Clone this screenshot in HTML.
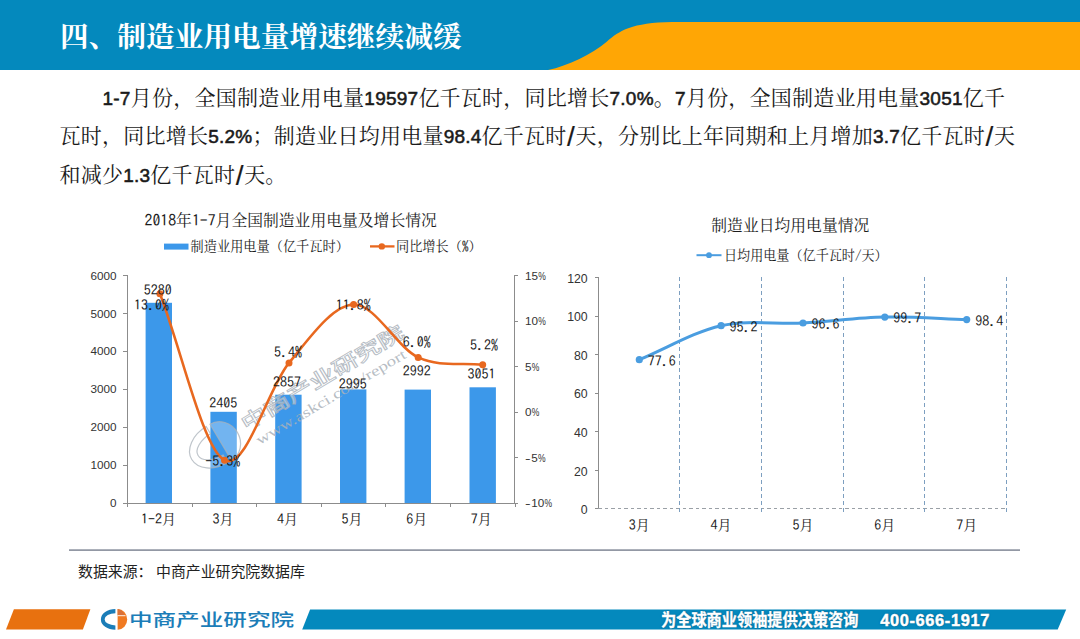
<!DOCTYPE html>
<html lang="zh-CN"><head><meta charset="utf-8"><title>四、制造业用电量增速继续减缓</title>
<style>
html,body{margin:0;padding:0;background:#fff;}
body{width:1080px;height:639px;position:relative;overflow:hidden;font-family:"Liberation Sans","Noto Sans CJK SC",sans-serif;}
.abs{position:absolute;}
.title{left:60px;top:16px;height:42px;line-height:42px;color:#fff;font-family:"Liberation Serif","Noto Serif CJK SC",serif;font-weight:700;font-size:28.7px;white-space:nowrap;letter-spacing:0px;}
.p{color:#1a1a1a;font-family:"Liberation Sans","Noto Serif CJK SC",serif;font-size:21px;line-height:30px;height:30px;white-space:nowrap;font-weight:400;}
.p b{font-family:"Liberation Sans",sans-serif;font-weight:400;font-size:19px;-webkit-text-stroke:0.55px #1a1a1a;}
.p b.sl{padding:0 0.5px;font-size:28px;font-weight:400;-webkit-text-stroke:0.2px #1a1a1a;line-height:0;position:relative;top:2.5px;}
.p b.pc{letter-spacing:-0.4px;}

.ax text{font-family:"Liberation Sans",sans-serif;font-size:11.7px;fill:#333;}
.sun, .sun text{font-family:"Liberation Serif","Noto Serif CJK SC",serif;font-size:14px;fill:#1c1c1c;}
.d{font-family:IPAGothic,"Liberation Mono",monospace;}
.src{left:78px;top:561.3px;font-size:14.9px;line-height:22px;color:#222;white-space:nowrap;}
.slogan{top:609px;height:21px;line-height:21px;color:#fff;font-weight:700;font-size:15.2px;white-space:nowrap;text-shadow:0 0 2px #0a5f8a,0 0 1px #0a5f8a;}
</style></head><body>
<svg class="abs" style="left:0;top:0" width="1080" height="72" viewBox="0 0 1080 72">
<rect x="0" y="0" width="1080" height="70" fill="#0489bd"/>
<path d="M548,70 C568,66 592,54 607,41.5 C619,31 632,22.5 672,22 L1080,22 L1080,70 Z" fill="#ffa605"/>
</svg>
<div class="abs title">四、制造业用电量增速继续减缓</div>
<div class="abs p" style="left:102.5px;top:83px;letter-spacing:0.24px"><b>1-7</b>月份，全国制造业用电量<b>19597</b>亿千瓦时，同比增长<b>7.0%</b>。<b>7</b>月份，全国制造业用电量<b>3051</b>亿千</div>
<div class="abs p" style="left:59.5px;top:121px;letter-spacing:0.24px">瓦时，同比增长<b>5.2%</b>；制造业日均用电量<b>98.4</b>亿千瓦时<b class="sl">/</b>天，分别比上年同期和上月增加<b>3.7</b>亿千瓦时<b class="sl">/</b>天</div>
<div class="abs p" style="left:59.5px;top:160px;letter-spacing:0.22px">和减少<b>1.3</b>亿千瓦时<b class="sl">/</b>天。</div>
<svg class="abs" style="left:0;top:0" width="1080" height="639" viewBox="0 0 1080 639">
<rect x="145.6" y="302.8" width="26.4" height="200.2" fill="#3c98ea"/>
<rect x="210.4" y="411.8" width="26.4" height="91.2" fill="#3c98ea"/>
<rect x="275.2" y="394.7" width="26.4" height="108.3" fill="#3c98ea"/>
<rect x="340.0" y="389.4" width="26.4" height="113.6" fill="#3c98ea"/>
<rect x="404.6" y="389.6" width="26.4" height="113.4" fill="#3c98ea"/>
<rect x="469.5" y="387.3" width="26.4" height="115.7" fill="#3c98ea"/>
<g stroke="#8c8c8c" stroke-width="1" fill="none" shape-rendering="crispEdges">
<path d="M127.6,275.5V503.0H514.4V275.5"/>
<path d="M122.6,503.0H127.6"/>
<path d="M122.6,465.1H127.6"/>
<path d="M122.6,427.2H127.6"/>
<path d="M122.6,389.2H127.6"/>
<path d="M122.6,351.3H127.6"/>
<path d="M122.6,313.4H127.6"/>
<path d="M122.6,275.5H127.6"/>
<path d="M514.4,503.0h3.6"/>
<path d="M514.4,457.5h3.6"/>
<path d="M514.4,412.0h3.6"/>
<path d="M514.4,366.5h3.6"/>
<path d="M514.4,321.0h3.6"/>
<path d="M514.4,275.5h3.6"/>
<path d="M127.6,503.0v4"/>
<path d="M192.2,503.0v4"/>
<path d="M256.7,503.0v4"/>
<path d="M321.3,503.0v4"/>
<path d="M385.9,503.0v4"/>
<path d="M450.4,503.0v4"/>
<path d="M515.0,503.0v4"/>
</g>
<g class="ax" text-anchor="end">
<text x="116.4" y="507.1">0</text>
<text x="116.4" y="469.2">1000</text>
<text x="116.4" y="431.3">2000</text>
<text x="116.4" y="393.4">3000</text>
<text x="116.4" y="355.4">4000</text>
<text x="116.4" y="317.5">5000</text>
<text x="116.4" y="279.6">6000</text>
</g>
<g class="ax">
<text x="525.0" y="507.4" textLength="5.6" lengthAdjust="spacingAndGlyphs">-</text>
<text x="531.2" y="507.4">10</text><text x="544.5" y="507.4" textLength="7.6" lengthAdjust="spacingAndGlyphs">%</text>
<text x="525.0" y="461.9" textLength="5.6" lengthAdjust="spacingAndGlyphs">-</text>
<text x="531.2" y="461.9">5</text><text x="538.0" y="461.9" textLength="7.6" lengthAdjust="spacingAndGlyphs">%</text>
<text x="525.0" y="416.4">0</text><text x="531.8" y="416.4" textLength="7.6" lengthAdjust="spacingAndGlyphs">%</text>
<text x="525.0" y="370.9">5</text><text x="531.8" y="370.9" textLength="7.6" lengthAdjust="spacingAndGlyphs">%</text>
<text x="525.0" y="325.4">10</text><text x="538.3" y="325.4" textLength="7.6" lengthAdjust="spacingAndGlyphs">%</text>
<text x="525.0" y="279.9">15</text><text x="538.3" y="279.9" textLength="7.6" lengthAdjust="spacingAndGlyphs">%</text>
</g>
<g class="sun" text-anchor="middle">
<text x="158.4" y="523.5"><tspan class="d">1-2</tspan>月</text>
<text x="223.0" y="523.5"><tspan class="d">3</tspan>月</text>
<text x="287.5" y="523.5"><tspan class="d">4</tspan>月</text>
<text x="352.1" y="523.5"><tspan class="d">5</tspan>月</text>
<text x="416.7" y="523.5"><tspan class="d">6</tspan>月</text>
<text x="481.2" y="523.5"><tspan class="d">7</tspan>月</text>
</g>
<g transform="translate(214.5,446) rotate(-30.8)">
<g transform="scale(2.02)" fill="#ffffff" fill-opacity="0.28" stroke="#a9b1ba" stroke-opacity="0.75" stroke-width="0.6">
<path d="M1.4,-10.4 A14.5,10.4 0 0 0 1.4,10.4 L1.4,6 A10.8,6.1 0 0 1 1.4,-6.2 Z"/>
<path d="M3.6,-10.4 A9.6,10.4 0 0 1 3.6,10.4 Z"/>
</g>
<text transform="translate(35,3.5) scale(1.38,1)" font-size="19.2" font-family="'Liberation Sans','Noto Sans CJK SC',sans-serif" font-weight="500" fill="#ffffff" fill-opacity="0.45" stroke="#a4acb5" stroke-opacity="0.8" stroke-width="0.9">中商产业研究院</text>
<text x="39" y="22.5" font-size="14.5" font-family="'Liberation Serif',serif" fill="#aab1b9" fill-opacity="0.85" textLength="172" lengthAdjust="spacingAndGlyphs">www.askci.com/report</text>
</g>
<path d="M159.9,293.7 C181.4,349.2 202.9,448.7 224.5,460.2 C246.0,471.8 267.5,388.8 289.0,362.9 C310.5,336.9 332.1,305.5 353.6,304.6 C375.1,303.7 396.6,347.4 418.2,357.4 C439.7,367.4 461.2,362.3 482.7,364.7" fill="none" stroke="#e8681f" stroke-width="2.55" stroke-linecap="round"/>
<circle cx="159.9" cy="293.7" r="3.5" fill="#e8681f"/>
<circle cx="224.5" cy="460.2" r="3.5" fill="#e8681f"/>
<circle cx="289.0" cy="362.9" r="3.5" fill="#e8681f"/>
<circle cx="353.6" cy="304.6" r="3.5" fill="#e8681f"/>
<circle cx="418.2" cy="357.4" r="3.5" fill="#e8681f"/>
<circle cx="482.7" cy="364.7" r="3.5" fill="#e8681f"/>
<g class="sun" text-anchor="middle">
<text x="157.7" y="294.9"><tspan class="d">5280</tspan></text>
<text x="223.3" y="408.0"><tspan class="d">2405</tspan></text>
<text x="286.9" y="386.7"><tspan class="d">2857</tspan></text>
<text x="352.7" y="388.7"><tspan class="d">2995</tspan></text>
<text x="416.8" y="376.0"><tspan class="d">2992</tspan></text>
<text x="481.4" y="379.2"><tspan class="d">3051</tspan></text>
<text x="151.4" y="309.9"><tspan class="d">13.0%</tspan></text>
<text x="222.8" y="466.2"><tspan class="d">-5.3%</tspan></text>
<text x="287.9" y="356.7"><tspan class="d">5.4%</tspan></text>
<text x="353.3" y="309.8"><tspan class="d">11.8%</tspan></text>
<text x="416.8" y="347.2"><tspan class="d">6.0%</tspan></text>
<text x="483.9" y="349.9"><tspan class="d">5.2%</tspan></text>
</g>
<text class="sun" x="144.5" y="226.2" style="font-size:15.8px"><tspan class="d">2018</tspan>年<tspan class="d">1-7</tspan>月全国制造业用电量及增长情况</text>
<rect x="164" y="243.6" width="24.5" height="6" fill="#3c98ea"/>
<text class="sun" x="190.6" y="251" style="font-size:13.2px">制造业用电量（亿千瓦时）</text>
<path d="M370,246.4H394.5" stroke="#e8681f" stroke-width="2.3"/><circle cx="381.8" cy="246.4" r="3.2" fill="#e8681f"/>
<text class="sun" x="396" y="251" style="font-size:13.2px">同比增长（<tspan class="d">%</tspan>）</text>
<g stroke="#8c8c8c" stroke-width="1" fill="none" shape-rendering="crispEdges">
<path d="M598.3,277.4V508.9"/>
<path d="M594.8,508.9h3.5"/>
<path d="M594.8,470.3h3.5"/>
<path d="M594.8,431.7h3.5"/>
<path d="M594.8,393.1h3.5"/>
<path d="M594.8,354.6h3.5"/>
<path d="M594.8,316.0h3.5"/>
<path d="M594.8,277.4h3.5"/>
<path d="M598.3,508.9H1006.8" stroke-dasharray="3.5 3" stroke="#9aa0a6"/>
</g>
<g stroke="#7d9fc0" stroke-width="1" fill="none" stroke-dasharray="4 3" shape-rendering="crispEdges">
<path d="M679.4,277.4V512.9"/>
<path d="M761.2,277.4V512.9"/>
<path d="M843.1,277.4V512.9"/>
<path d="M924.9,277.4V512.9"/>
<path d="M1006.8,277.4V512.9"/>
</g>
<g class="ax" text-anchor="end">
<text x="587.7" y="514.1" style="font-size:12.3px">0</text>
<text x="587.7" y="475.5" style="font-size:12.3px">20</text>
<text x="587.7" y="436.9" style="font-size:12.3px">40</text>
<text x="587.7" y="398.3" style="font-size:12.3px">60</text>
<text x="587.7" y="359.8" style="font-size:12.3px">80</text>
<text x="587.7" y="321.2" style="font-size:12.3px">100</text>
<text x="587.7" y="282.6" style="font-size:12.3px">120</text>
</g>
<g class="sun" text-anchor="middle">
<text x="639.3" y="530.3"><tspan class="d">3</tspan>月</text>
<text x="721.1" y="530.3"><tspan class="d">4</tspan>月</text>
<text x="803.0" y="530.3"><tspan class="d">5</tspan>月</text>
<text x="884.8" y="530.3"><tspan class="d">6</tspan>月</text>
<text x="966.7" y="530.3"><tspan class="d">7</tspan>月</text>
</g>
<path d="M639.3,359.7 C666.6,348.4 693.8,331.9 721.1,325.7 C748.4,319.6 775.7,324.5 803.0,323.0 C830.3,321.6 857.5,317.6 884.8,317.1 C912.1,316.5 939.4,318.7 966.7,319.6" fill="none" stroke="#4a9de0" stroke-width="3" stroke-linecap="round"/>
<circle cx="639.3" cy="359.7" r="3.6" fill="#4a9de0"/>
<circle cx="721.1" cy="325.7" r="3.6" fill="#4a9de0"/>
<circle cx="803.0" cy="323.0" r="3.6" fill="#4a9de0"/>
<circle cx="884.8" cy="317.1" r="3.6" fill="#4a9de0"/>
<circle cx="966.7" cy="319.6" r="3.6" fill="#4a9de0"/>
<g class="sun">
<text x="647.8" y="365.7"><tspan class="d">77.6</tspan></text>
<text x="729.6" y="331.7"><tspan class="d">95.2</tspan></text>
<text x="811.5" y="329.0"><tspan class="d">96.6</tspan></text>
<text x="893.3" y="323.1"><tspan class="d">99.7</tspan></text>
<text x="975.2" y="325.6"><tspan class="d">98.4</tspan></text>
</g>
<text class="sun" x="711.3" y="230.7" style="font-size:15.8px">制造业日均用电量情况</text>
<path d="M696.5,255.2H721.5" stroke="#4a9de0" stroke-width="2"/><circle cx="709" cy="255.2" r="2.9" fill="#4a9de0"/>
<text class="sun" x="724" y="260" style="font-size:13.1px">日均用电量（亿千瓦时<tspan class="d">/</tspan>天）</text>
</svg>
<div class="abs" style="left:68.5px;top:548.8px;width:951.5px;height:2.2px;background:linear-gradient(#c9ccd3,#8a909d 55%,#9da2ad)"></div>
<div class="abs src">数据来源<span style="margin-right:3.5px">：</span>中商产业研究院数据库</div>
<svg class="abs" style="left:0;top:600px" width="1080" height="39" viewBox="0 600 1080 39">
<path d="M13.9,609.3H90.4L82.9,629.6H6Z" fill="#e8710f"/>
<path d="M310.1,609.4H1066.2L1057.7,629.6H302.2Z" fill="#0489bd"/>
<g>
<path d="M115.4,609 A14.5,10.4 0 0 0 115.4,629.8 L115.4,625.4 A10.8,6.1 0 0 1 115.4,613.2 Z" fill="#1b7db8"/>
<path d="M117.6,609 A9.6,10.4 0 0 1 117.6,629.8 Z" fill="#f07a22"/>
<path d="M117.6,609 A9.6,10.4 0 0 1 124.6,615.2 L117.6,615.2 Z" fill="#d9713a"/>
<path d="M117.6,615.7H125.5" stroke="#fff" stroke-width="0.9"/>
</g>
<text transform="translate(128.9,625.9) scale(1.365,1)" font-family="'Liberation Sans','Noto Sans CJK SC',sans-serif" font-size="17.3" font-weight="500" fill="#1b7db8">中商产业研究院</text>
</svg>
<div class="abs slogan" style="left:661px;top:609.8px;transform:scaleY(1.09);transform-origin:50% 50%;-webkit-text-stroke:0.3px #fff">为全球商业领袖提供决策咨询</div>
<div class="abs slogan" style="left:880.3px;top:609.7px;font-size:16.4px;letter-spacing:0.63px;-webkit-text-stroke:0.45px #fff">400-666-1917</div>
</body></html>
